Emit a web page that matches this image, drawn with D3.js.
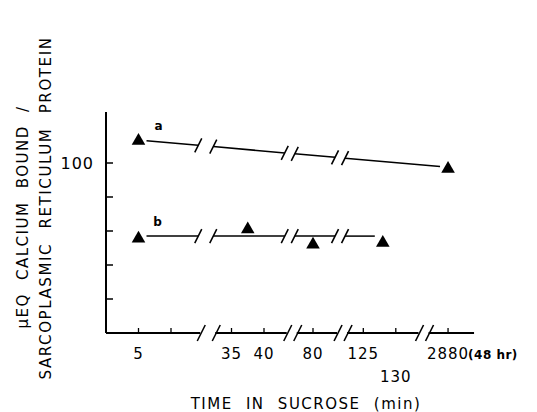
<!DOCTYPE html>
<html>
<head>
<meta charset="utf-8">
<script src="https://cdn.jsdelivr.net/npm/d3@7"></script>
<style>
  body { margin: 0; background: #fff; }
  svg text { font-family: "DejaVu Sans", "Liberation Sans", sans-serif; fill: #000; }
</style>
</head>
<body>
<svg id="chart"></svg>
<script>
// broken time axis: each piece of the axis covers its own range of minutes
const axisSegments = [[0, 14.5], [32.5, 43.5], [77.5, 83.7], [122.5, 133.5], [2877, 2884]]
const xTickValues = [5, 10, 35, 40, 80, 125, 130, 2880]
const xTickLabels = ["5", "", "35", "40", "80", "125", "130", "2880"]
const yTickValues = [20, 40, 60, 80, 100]
const yTickLabels = ["", "", "", "", "100"]

// series a: only first and last samples drawn
const timesA = [5, 2880]
const valuesA = [113, 96.5]
const lineA = [113.5, 97.5]

// series b
const timesB = [5, 37.5, 80, 128]
const valuesB = [55.5, 61, 52, 53]
const lineB = [57, 57]

const w = 537
const h = 412
const x0 = 106
const y0 = 333
const pxPerMin = 6.5
const gaps = [15, 10, 10, 10]
const lineBreaks = 3   // the data lines only show the first three breaks

// build the piecewise domain/range for the broken axis
const domain = []
const range = []
let cursor = x0
axisSegments.forEach((s, i) => {
  domain.push(s[0], s[1])
  range.push(cursor, cursor + (s[1] - s[0]) * pxPerMin)
  cursor += (s[1] - s[0]) * pxPerMin + (gaps[i] || 0)
})
const xScale = d3.scaleLinear().domain(domain).range(range)
const yScale = d3.scaleLinear().domain([0, 130]).range([y0, y0 - 130 * 1.7])

const svg = d3.select("#chart").attr("width", w).attr("height", h)

const segPx = axisSegments.map(s => [xScale(s[0]), xScale(s[1])])

function slash(g, cx, cy, hw, hh) {
  g.append("line")
    .attr("x1", cx - hw).attr("y1", cy + hh)
    .attr("x2", cx + hw).attr("y2", cy - hh)
    .attr("stroke", "#000").attr("stroke-width", 1.6)
}

// y axis
svg.append("line")
  .attr("x1", x0).attr("x2", x0)
  .attr("y1", yScale(130)).attr("y2", y0)
  .attr("stroke", "#000").attr("stroke-width", 2)

svg.selectAll(".ytick")
  .data(yTickValues)
  .enter()
  .append("line")
  .attr("x1", x0).attr("x2", x0 + 7)
  .attr("y1", d => yScale(d)).attr("y2", d => yScale(d))
  .attr("stroke", "#000").attr("stroke-width", 1.5)

svg.selectAll(".ylab")
  .data(yTickValues)
  .enter()
  .append("text")
  .attr("x", x0 - 12)
  .attr("y", d => yScale(d))
  .attr("dy", "0.36em")
  .attr("text-anchor", "end")
  .attr("font-size", 16)
  .attr("letter-spacing", 1)
  .text((d, i) => yTickLabels[i])

// x axis, drawn piece by piece with break marks
const axisG = svg.append("g")
segPx.forEach((p, i) => {
  axisG.append("line")
    .attr("x1", p[0]).attr("x2", p[1])
    .attr("y1", y0).attr("y2", y0)
    .attr("stroke", "#000").attr("stroke-width", 2)
  if (i > 0) slash(axisG, p[0] + 1, y0, 4, 8)
  if (i < segPx.length - 1) slash(axisG, p[1] + 1, y0, 4, 8)
})

axisG.selectAll(".xtick")
  .data(xTickValues)
  .enter()
  .append("line")
  .attr("x1", d => xScale(d)).attr("x2", d => xScale(d))
  .attr("y1", y0).attr("y2", y0 - 5)
  .attr("stroke", "#000").attr("stroke-width", 1.3)

axisG.selectAll(".xlab")
  .data(xTickValues)
  .enter()
  .append("text")
  .attr("x", d => xScale(d))
  .attr("y", d => d === 130 ? 382 : 359)
  .attr("text-anchor", "middle")
  .attr("font-size", 15)
  .attr("letter-spacing", 1)
  .text((d, i) => xTickLabels[i])

axisG.append("text")
  .attr("x", xScale(2880) + 20)
  .attr("y", 359)
  .attr("font-size", 12)
  .attr("font-weight", "bold")
  .attr("letter-spacing", 0.5)
  .text("(48 hr)")

svg.append("text")
  .attr("x", 306)
  .attr("y", 409)
  .attr("text-anchor", "middle")
  .attr("font-size", 15)
  .attr("letter-spacing", 1.5)
  .attr("word-spacing", 7)
  .text("TIME IN SUCROSE (min)")

// y title, two rotated lines
svg.append("text")
  .attr("transform", "translate(28,217) rotate(-90)")
  .attr("text-anchor", "middle")
  .attr("font-size", 15)
  .attr("letter-spacing", 1.5)
  .attr("word-spacing", 7)
  .text("μEQ CALCIUM BOUND /")

svg.append("text")
  .attr("transform", "translate(51,208) rotate(-90)")
  .attr("text-anchor", "middle")
  .attr("font-size", 15)
  .attr("letter-spacing", 1.6)
  .attr("word-spacing", 8)
  .text("SARCOPLASMIC RETICULUM PROTEIN")

// connecting lines with the same breaks as the axis
function brokenLine(t0, t1, v) {
  const g = svg.append("g")
  const xa = xScale(t0) + 8
  const xb = xScale(t1) - 8
  const ya = yScale(v[0])
  const yb = yScale(v[1])
  const yAt = xx => ya + (yb - ya) * (xx - xScale(t0)) / (xScale(t1) - xScale(t0))
  const pieces = []
  let start = xa
  segPx.forEach((p, i) => {
    if (i < lineBreaks && p[1] > xa && p[1] < xb) {
      pieces.push([start, p[1] - 2])
      start = segPx[i + 1][0] - 2
    }
  })
  pieces.push([start, xb])
  pieces.forEach((p, i) => {
    g.append("line")
      .attr("x1", p[0]).attr("x2", p[1])
      .attr("y1", yAt(p[0])).attr("y2", yAt(p[1]))
      .attr("stroke", "#000").attr("stroke-width", 1.5)
    if (i > 0) slash(g, p[0], yAt(p[0]), 3.5, 7)
    if (i < pieces.length - 1) slash(g, p[1], yAt(p[1]), 3.5, 7)
  })
}

brokenLine(timesA[0], timesA[timesA.length - 1], lineA)
brokenLine(timesB[0], timesB[timesB.length - 1], lineB)

const tri = d3.symbol().type(d3.symbolTriangle).size(80)

svg.selectAll(".ptA")
  .data(timesA)
  .enter()
  .append("path")
  .attr("d", tri)
  .attr("transform", (d, i) => `translate(${xScale(d)},${yScale(valuesA[i])})`)
  .attr("fill", "#000")

svg.selectAll(".ptB")
  .data(timesB)
  .enter()
  .append("path")
  .attr("d", tri)
  .attr("transform", (d, i) => `translate(${xScale(d)},${yScale(valuesB[i])})`)
  .attr("fill", "#000")

svg.append("text")
  .attr("x", xScale(timesA[0]) + 20).attr("y", 130)
  .attr("text-anchor", "middle").attr("font-size", 12).attr("font-weight", "bold")
  .text("a")

svg.append("text")
  .attr("x", xScale(timesB[0]) + 19).attr("y", 226)
  .attr("text-anchor", "middle").attr("font-size", 12).attr("font-weight", "bold")
  .text("b")
</script>
</body>
</html>
